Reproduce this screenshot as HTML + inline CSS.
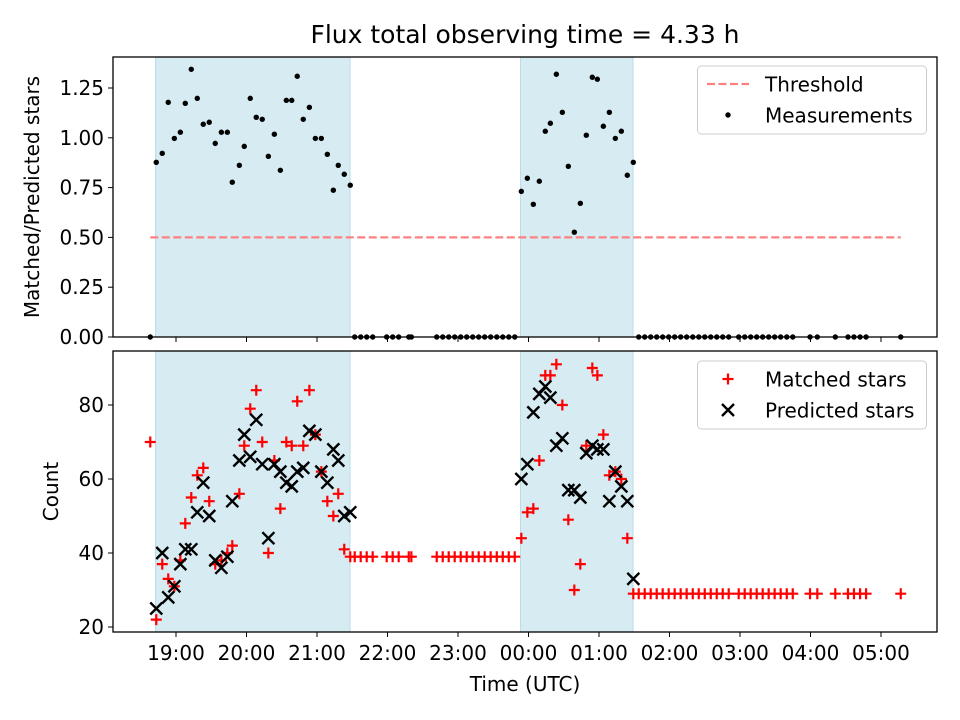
<!DOCTYPE html>
<html><head><meta charset="utf-8"><style>
body{margin:0;background:#fff}
svg{display:block;font-family:"DejaVu Sans","Liberation Sans",sans-serif}
</style></head><body>
<svg id="chart" width="960" height="720" viewBox="0 0 960 720" xmlns="http://www.w3.org/2000/svg">
<rect width="960" height="720" fill="#fff"/>
<text x="525" y="43" font-size="25" text-anchor="middle">Flux total observing time = 4.33 h</text>
<g id="top"></g><g id="bot"></g>
</svg>
<script>
// times: minutes after 19:00 UTC
const times=[-21.9,
-16.8,-11.7,-6.6,-1.4,3.7,7.9,13.0,18.1,23.2,28.3,33.4,38.6,43.7,47.9,53.9,58.1,63.2,68.3,73.4,78.6,83.7,88.8,93.9,98.5,103.2,108.3,113.5,118.6,123.7,128.8,133.9,138.1,143.2,148.3,
152.1,157.2,162.3,167.4,179.3,184.4,189.5,198.1,200.3,221.9,227,232.1,237.2,242.3,247.4,252.5,257.6,262.7,267.8,273,278.1,283.2,288.3,
293.9,299,304.1,309.2,314.3,318.6,323.7,328.8,333.9,339,344.1,349.2,354.3,358.6,363.7,368.8,373.9,379,384.1,389.2,
393.8,398.9,404,409.1,414.2,419.3,424.4,429.5,434.6,439.8,444.9,450,455.1,460.2,465.3,470.4,478.9,484,489.1,494.2,499.3,504.4,509.5,514.6,519.8,524.9,539.6,545.8,561.1,571.9,577,582.2,587.3,616.8];
const ratio=[0,
0.877,0.922,1.178,0.997,1.028,1.173,1.344,1.198,1.068,1.078,0.972,1.028,1.028,0.777,0.862,0.957,1.198,1.103,1.093,0.907,1.018,0.837,1.188,1.188,1.309,1.093,1.153,0.997,0.997,0.917,0.737,0.862,0.817,0.762,
0,0,0,0,0,0,0,0,0,0,0,0,0,0,0,0,0,0,0,0,0,0,0,
0.731,0.797,0.666,0.782,1.033,1.073,1.319,1.128,0.857,0.526,0.671,1.013,1.304,1.294,1.058,1.128,0.997,1.033,0.812,0.877,
0,0,0,0,0,0,0,0,0,0,0,0,0,0,0,0,0,0,0,0,0,0,0,0,0,0,0,0,0,0,0,0,0,0];
const matched=[70,
22,37,33,31,38,48,55,61,63,54,37,38,40,42,56,69,79,84,70,40,65,52,70,69,81,69,84,72,62,54,50,56,41,39,
39,39,39,39,39,39,39,39,39,39,39,39,39,39,39,39,39,39,39,39,39,39,39,
44,51,52,65,88,88,91,80,49,30,37,69,90,88,72,61,62,60,44,29,
29,29,29,29,29,29,29,29,29,29,29,29,29,29,29,29,29,29,29,29,29,29,29,29,29,29,29,29,29,29,29,29,29,29];
const predW1=[25,40,28,31,37,41,41,51,59,50,38,36,39,54,65,72,66,76,64,44,64,62,59,58,62,63,73,72,62,59,68,65,50,51];
const predW2=[60,64,78,83,85,82,69,71,57,57,55,67,69,68,68,54,62,58,54,33];
const windows=[[-17.4,148.1],[293.2,389]];
const threshold=0.5;
const topTicks=[0,0.25,0.5,0.75,1.0,1.25];
const botTicks=[20,40,60,80];
const xTickHours=[0,60,120,180,240,300,360,420,480,540,600];
const xTickLabels=["19:00","20:00","21:00","22:00","23:00","00:00","01:00","02:00","03:00","04:00","05:00"];

const NS="http://www.w3.org/2000/svg";
const L=113,R=937,T1=57,B1=337,T2=351,B2=632;
const FS=20;
const xs=t=>176+t/60*70.5;
const yT=v=>337-v*199.2;
const yB=c=>627-(c-20)*3.7;
function mk(p,tag,a){const e=document.createElementNS(NS,tag);for(const k in a)e.setAttribute(k,a[k]);p.appendChild(e);return e;}
const svg=document.getElementById('chart');
const defs=mk(svg,'defs',{});
const cp=mk(defs,'clipPath',{id:'c2'});mk(cp,'rect',{x:L,y:T2,width:R-L,height:B2-T2});
const cp1=mk(defs,'clipPath',{id:'c1'});mk(cp1,'rect',{x:L,y:T1-4,width:R-L,height:B1-T1+8});
const predicted=times.map(()=>null);
predW1.forEach((v,i)=>{predicted[1+i]=v;});
predW2.forEach((v,i)=>{predicted[58+i]=v;});

function panel(g,T,B,yf,ticks,fmt,lbl,lblx){
  windows.forEach((w,i)=>{const r=mk(g,'rect',{x:xs(w[0]),y:T,width:xs(w[1])-xs(w[0]),height:B-T,fill:'#d6ebf2',stroke:'#b9dde8','stroke-width':1});
    
    });
  ticks.forEach(v=>{const y=yf(v);mk(g,'line',{x1:L-5,x2:L,y1:y,y2:y,stroke:'#000','stroke-width':1});
    const t=mk(g,'text',{x:L-9,y:y+7,'font-size':FS,'text-anchor':'end'});t.textContent=fmt(v);
    
    });
  xTickHours.forEach(m=>{const x=xs(m);mk(g,'line',{x1:x,x2:x,y1:B,y2:B+5,stroke:'#000','stroke-width':1});});
  const yl=mk(g,'text',{x:lblx,y:(T+B)/2,'font-size':FS,'text-anchor':'middle',transform:`rotate(-90 ${lblx} ${(T+B)/2})`});yl.textContent=lbl;
  
  
}
const gt=document.getElementById('top'),gb=document.getElementById('bot');
panel(gt,T1,B1,yT,topTicks,v=>v.toFixed(2),'Matched/Predicted stars',39);
panel(gb,T2,B2,yB,botTicks,v=>String(v),'Count',58);
const th=mk(gt,'line',{x1:xs(times[0]),x2:xs(times[times.length-1]),y1:yT(threshold),y2:yT(threshold),stroke:'#ff8080','stroke-width':2.2,'stroke-dasharray':'8 3.5'});


const g1=mk(gt,'g',{'clip-path':'url(#c1)'});
times.forEach((t,i)=>{const c=mk(g1,'circle',{cx:xs(t),cy:yT(ratio[i]),r:2.7,fill:'#000'});
  
  });
const g2=mk(gb,'g',{'clip-path':'url(#c2)'});
function plus(g,x,y,s,col,name){const p=mk(g,'path',{d:`M${x-s} ${y}H${x+s}M${x} ${y-s}V${y+s}`,stroke:col,'stroke-width':2.2,fill:'none'});
  
  return p;}
function cross(g,x,y,s,col,name){const p=mk(g,'path',{d:`M${x-s} ${y-s}L${x+s} ${y+s}M${x-s} ${y+s}L${x+s} ${y-s}`,stroke:col,'stroke-width':2.4,fill:'none'});
  
  return p;}
times.forEach((t,i)=>{plus(g2,xs(t),yB(matched[i]),5.5,'#f00','matched-star-point');});
times.forEach((t,i)=>{if(predicted[i]!==null)cross(g2,xs(t),yB(predicted[i]),6,'#000','predicted-star-point');});
[[T1,B1],[T2,B2]].forEach(([T,B],i)=>{const r=mk(svg,'rect',{x:L,y:T,width:R-L,height:B-T,fill:'none',stroke:'#000','stroke-width':1.3});
  
  });
xTickHours.forEach((m,i)=>{const t=mk(svg,'text',{x:xs(m),y:660,'font-size':FS,'text-anchor':'middle'});t.textContent=xTickLabels[i];
  
  });
const xl=mk(svg,'text',{x:525,y:691,'font-size':FS,'text-anchor':'middle'});xl.textContent='Time (UTC)';


function legend(y0,items,name){const g=mk(svg,'g',{});
  
  
  mk(g,'rect',{x:697.5,y:y0,width:229,height:68,rx:4,fill:'#fff','fill-opacity':0.8,stroke:'#ccc','stroke-width':1});
  items.forEach((it,i)=>{const y=y0+18+i*31;it.draw(g,y);const t=mk(g,'text',{x:765,y:y+7.5,'font-size':FS});t.textContent=it.label;});}
legend(66,[{label:'Threshold',draw:(g,y)=>mk(g,'line',{x1:707,x2:749,y1:y,y2:y,stroke:'#ff8080','stroke-width':2.2,'stroke-dasharray':'8 3.5'})},
  {label:'Measurements',draw:(g,y)=>mk(g,'circle',{cx:728,cy:y,r:2.7,fill:'#000'})}],'top-legend');
legend(361,[{label:'Matched stars',draw:(g,y)=>plus(g,728,y,5.5,'#f00','legend-matched-marker')},
  {label:'Predicted stars',draw:(g,y)=>cross(g,728,y,6,'#000','legend-predicted-marker')}],'bottom-legend');
</script>
</body></html>
